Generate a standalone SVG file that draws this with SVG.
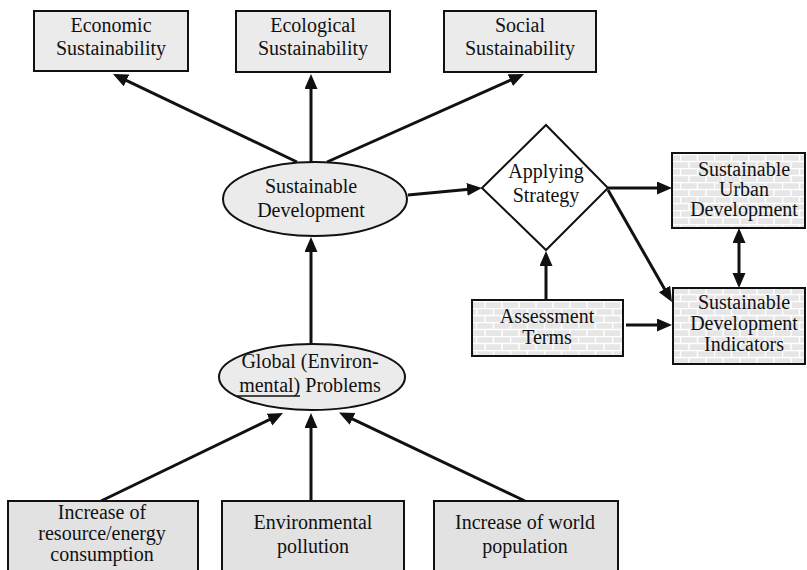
<svg xmlns="http://www.w3.org/2000/svg" width="807" height="570" viewBox="0 0 807 570">
<style>
text{font-family:"Liberation Serif","Times New Roman",serif;font-size:20px;fill:#111;text-anchor:middle}
.box{fill:#ebebeb;stroke:#111;stroke-width:2}
.box2{fill:#e2e2e2;stroke:#111;stroke-width:2}
.brick{fill:url(#bricks);stroke:#111;stroke-width:2}
.ell{fill:#ebebeb;stroke:#111;stroke-width:2}
.dia{fill:#fff;stroke:#111;stroke-width:2}
.c{stroke:#111;stroke-width:3;fill:none;marker-end:url(#ah)}
</style>
<defs>
<marker id="ah" markerUnits="userSpaceOnUse" markerWidth="16" markerHeight="14" refX="5" refY="6.5" orient="auto-start-reverse">
<path d="M0,0 L15,6.5 L0,13 z" fill="#111"/>
</marker>
<pattern id="bricks" patternUnits="userSpaceOnUse" width="34" height="14" x="0" y="0">
<rect width="34" height="14" fill="#e6e6e6"/>
<path d="M0,0.5 H34 M0,7.5 H34 M0.5,0 V7 M17.5,0 V7 M9,7 V14 M26,7 V14" stroke="#fff" stroke-width="1.5" fill="none"/>
</pattern>
</defs>
<g id="connectors">
<line class="c" x1="297" y1="162" x2="122" y2="78.3"/>
<line class="c" x1="311" y1="162" x2="311" y2="84"/>
<line class="c" x1="327" y1="162" x2="514.9" y2="78.1"/>
<line class="c" x1="311" y1="345" x2="311" y2="247"/>
<line class="c" x1="408" y1="195" x2="472" y2="188.9"/>
<line class="c" x1="608" y1="188" x2="662" y2="188"/>
<line class="c" x1="608" y1="190" x2="667" y2="293.3"/>
<line class="c" x1="546" y1="300" x2="546" y2="261"/>
<line class="c" x1="626" y1="325" x2="662" y2="325"/>
<line class="c" x1="739" y1="238" x2="739" y2="278" style="marker-start:url(#ah)"/>
<line class="c" x1="101" y1="501" x2="274" y2="417.4"/>
<line class="c" x1="311" y1="501" x2="311" y2="423"/>
<line class="c" x1="525" y1="501" x2="348" y2="416.8"/>
</g>
<g id="economic">
<rect class="box" x="34" y="11" width="154" height="60"/>
<text x="111" y="32">Economic</text>
<text x="111" y="55">Sustainability</text>
</g>
<g id="ecological">
<rect class="box" x="236" y="11" width="154" height="61"/>
<text x="313" y="32">Ecological</text>
<text x="313" y="55">Sustainability</text>
</g>
<g id="social">
<rect class="box" x="444" y="11" width="152" height="61"/>
<text x="520" y="32">Social</text>
<text x="520" y="55">Sustainability</text>
</g>
<g id="sustainable-development">
<ellipse class="ell" cx="315" cy="199" rx="92" ry="37"/>
<text x="311" y="193">Sustainable</text>
<text x="311" y="217">Development</text>
</g>
<g id="applying-strategy">
<polygon class="dia" points="482,188 546,125 608,188 546,250"/>
<text x="546" y="178">Applying</text>
<text x="546" y="202">Strategy</text>
</g>
<g id="urban">
<rect class="brick" x="672" y="153" width="133" height="75"/>
<text x="744" y="176">Sustainable</text>
<text x="744" y="196">Urban</text>
<text x="744" y="216">Development</text>
</g>
<g id="indicators">
<rect class="brick" x="673" y="288" width="132" height="76"/>
<text x="744" y="309">Sustainable</text>
<text x="744" y="330">Development</text>
<text x="744" y="351">Indicators</text>
</g>
<g id="assessment">
<rect class="brick" x="472" y="300" width="151" height="56"/>
<text x="547" y="323">Assessment</text>
<text x="547" y="344">Terms</text>
</g>
<g id="global">
<ellipse class="ell" cx="312" cy="377" rx="93" ry="33"/>
<text x="310" y="368">Global (Environ-</text>
<text x="310" y="392">mental) Problems</text>
<line x1="237" y1="396" x2="300" y2="396" stroke="#111" stroke-width="1.3"/>
</g>
<g id="resource">
<rect class="box2" x="8" y="501" width="190" height="75"/>
<text x="102" y="519">Increase of</text>
<text x="102" y="540">resource/energy</text>
<text x="102" y="561">consumption</text>
</g>
<g id="pollution">
<rect class="box2" x="222" y="501" width="182" height="75"/>
<text x="313" y="529">Environmental</text>
<text x="313" y="553">pollution</text>
</g>
<g id="population">
<rect class="box2" x="434" y="501" width="184" height="75"/>
<text x="525" y="529">Increase of world</text>
<text x="525" y="553">population</text>
</g>
</svg>
